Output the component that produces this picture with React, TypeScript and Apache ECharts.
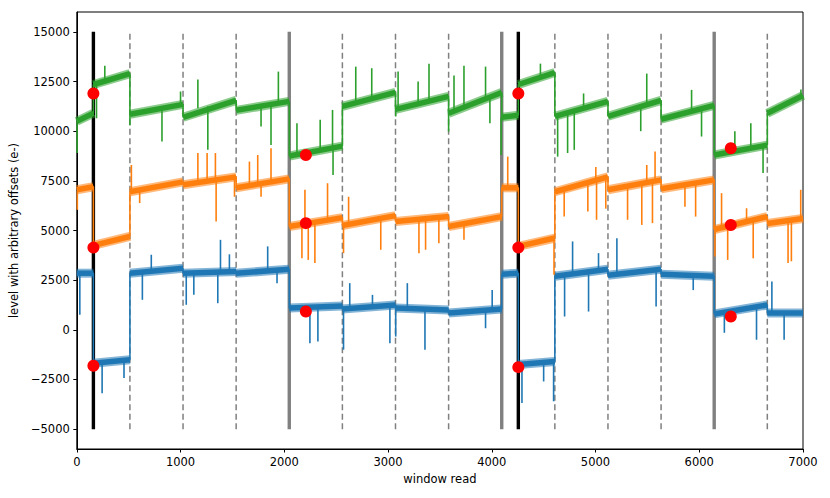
import React, { useEffect, useRef } from "react";
import * as echarts from "echarts";

// ---- data ----
const xTicks = [0, 1000, 2000, 3000, 4000, 5000, 6000, 7000];
const yTicks = [-5000, -2500, 0, 2500, 5000, 7500, 10000, 12500, 15000];

const dashedLines = [512, 1024, 1536, 2560, 3072, 3584, 4608, 5120, 5632, 6656];
const greyLines = [2048, 4096, 6144];
const blackLines = [160, 4256];
const vlineSpan = [-5000, 15000];

// baseline level of each trace: [window read, level]
const blueBase: [number, number][] = [
  [0, 2850], [160, 2850],
  [160, -1680], [512, -1510],
  [512, 2850], [1024, 3100],
  [1024, 2850], [1536, 2940],
  [1536, 2850], [2048, 3050],
  [2048, 1100], [2560, 1200],
  [2560, 1050], [3072, 1250],
  [3072, 1100], [3584, 1000],
  [3584, 850], [4096, 1050],
  [4096, 2800], [4256, 2850],
  [4256, -1750], [4608, -1600],
  [4608, 2700], [5120, 3050],
  [5120, 2750], [5632, 3050],
  [5632, 2800], [6144, 2700],
  [6144, 800], [6656, 1250],
  [6656, 850], [7000, 850],
];
const orangeBase: [number, number][] = [
  [0, 7050], [160, 7200],
  [160, 4250], [512, 4700],
  [512, 6950], [1024, 7450],
  [1024, 7300], [1536, 7700],
  [1536, 7150], [2048, 7600],
  [2048, 5200], [2560, 5650],
  [2560, 5250], [3072, 5750],
  [3072, 5450], [3584, 5700],
  [3584, 5200], [4096, 5700],
  [4096, 7150], [4256, 7150],
  [4256, 4200], [4608, 4620],
  [4608, 6950], [5120, 7700],
  [5120, 7050], [5632, 7550],
  [5632, 7100], [6144, 7550],
  [6144, 5050], [6656, 5700],
  [6656, 5350], [7000, 5600],
];
const greenBase: [number, number][] = [
  [0, 10500], [160, 10900],
  [160, 12350], [512, 12900],
  [512, 10850], [1024, 11350],
  [1024, 10700], [1536, 11550],
  [1536, 11050], [2048, 11500],
  [2048, 8750], [2560, 9250],
  [2560, 11250], [3072, 11950],
  [3072, 11100], [3584, 11750],
  [3584, 10900], [4096, 11950],
  [4096, 10700], [4256, 10800],
  [4256, 12350], [4608, 12950],
  [4608, 10750], [5120, 11500],
  [5120, 10750], [5632, 11550],
  [5632, 10600], [6144, 11300],
  [6144, 8800], [6656, 9300],
  [6656, 10900], [7000, 11800],
];

// spikes: [window read, level at start, tip level]
const blueSpikes: [number, number, number][] = [
  [29, 2850, 760], [244, -1650, -3190], [455, -1550, -2430], [632, 2950, 1510],
  [718, 2950, 3780], [1055, 2850, 1260], [1128, 2850, 1760], [1359, 2900, 1340],
  [1385, 2900, 4530], [1471, 2900, 3800], [1840, 2950, 4200], [1930, 3000, 2350],
  [2247, 1150, -670], [2324, 1150, -590], [2571, 1050, -1000], [2631, 1100, 2350],
  [2850, 1150, 1760], [3018, 1200, -670], [3074, 1100, -340], [3186, 1100, 2350],
  [3356, 1050, -1000], [3940, 950, 80], [4004, 1000, 2000], [4291, -1700, -3690],
  [4500, -1650, -2600], [4596, -1600, -3600], [4702, 2750, 670], [4779, 2800, 4450],
  [4933, 2900, 920], [5029, 3000, 3860], [5206, 2850, 4610], [5584, 3000, 1170],
  [5942, 2750, 2000], [6242, 900, -150], [6552, 1150, -500], [6700, 850, 2430],
  [6818, 850, -500],
];
const orangeSpikes: [number, number, number][] = [
  [5, 7000, 6040], [526, 7000, 8300], [606, 7050, 6380], [1167, 7350, 8900],
  [1256, 7400, 8900], [1336, 7450, 8900], [1343, 7450, 5450], [1520, 7650, 6700],
  [1664, 7300, 8470], [1744, 7350, 8800], [1776, 7350, 6700], [1872, 7450, 9140],
  [2170, 5300, 3600], [2199, 5350, 7050], [2231, 5350, 3520], [2295, 5400, 3360],
  [2417, 5500, 7380], [2571, 5250, 3860], [2620, 5300, 6700], [2930, 5600, 4030],
  [3298, 5550, 3860], [3362, 5550, 4030], [3490, 5650, 4360], [3732, 5400, 4530],
  [4154, 7150, 8720], [4600, 4600, 2770], [4698, 7100, 5700], [4926, 7400, 5960],
  [5003, 7500, 8200], [5010, 7500, 5540], [5099, 7650, 6100], [5309, 7200, 5540],
  [5446, 7350, 5280], [5494, 7450, 8300], [5549, 7450, 5370], [5574, 7500, 8980],
  [5862, 7300, 6200], [5965, 7350, 5700], [6151, 5050, 3690], [6215, 5150, 6880],
  [6274, 5250, 3520], [6456, 5400, 6120], [6520, 5500, 3600], [6856, 5450, 3360],
  [6888, 5450, 3450], [6978, 5600, 7050],
];
const greenSpikes: [number, number, number][] = [
  [3, 10500, 8900], [190, 12450, 10650], [270, 12600, 13300], [512, 11000, 10300],
  [821, 11200, 9480], [1000, 11300, 12000], [1167, 11150, 12600], [1263, 11250, 9060],
  [1776, 11300, 10230], [1872, 11350, 9300], [1943, 11400, 13000], [2122, 8900, 10400],
  [2346, 9050, 10570], [2465, 9150, 11070], [2470, 9150, 7800], [2689, 11450, 13250],
  [2843, 11650, 13170], [3074, 11300, 10740], [3097, 11200, 13000], [3290, 11400, 12500],
  [3395, 11550, 13400], [3584, 11000, 9980], [3636, 11050, 12800], [3732, 11300, 13300],
  [3940, 11600, 13250], [3982, 11700, 10400], [4090, 10700, 8800], [4469, 12800, 13400],
  [4635, 10800, 8720], [4731, 10950, 8900], [4795, 11050, 9060], [4885, 11200, 11900],
  [5436, 11350, 10000], [5494, 11400, 12900], [5926, 11100, 12080], [6022, 11150, 9730],
  [6343, 9000, 10000], [6497, 9150, 10400], [6615, 9300, 7900], [6980, 11800, 12100],
];

const redDots: [number, number][] = [
  [160, 11900], [160, 4140], [160, -1810],
  [2208, 8800], [2208, 5370], [2208, 920],
  [4256, 11900], [4256, 4140], [4256, -1880],
  [6304, 9140], [6304, 5280], [6304, 670],
];

const BLUE = "#1f77b4";
const ORANGE = "#ff7f0e";
const GREEN = "#2ca02c";
const FONT = "DejaVu Sans";

const fmt = (v: number) => (v < 0 ? "\u2212" + Math.abs(v) : String(v));

function vlineSeries(xs: number[], color: string, width: number, dash: number[] | null) {
  return {
    type: "custom",
    z: 1,
    silent: true,
    data: xs.map((x) => [x, vlineSpan[0], vlineSpan[1]]),
    encode: { x: 0, y: [1, 2] },
    renderItem: (_p: any, api: any) => {
      const a = api.coord([api.value(0), api.value(1)]);
      const b = api.coord([api.value(0), api.value(2)]);
      return {
        type: "line",
        shape: { x1: a[0], y1: a[1], x2: b[0], y2: b[1] },
        style: { stroke: color, lineWidth: width, lineDash: dash || undefined, fill: null },
      };
    },
  };
}

// each sub-segment of a baseline as one row [x0, v0, x1, v1]
function segmentsOf(base: [number, number][]) {
  const rows: number[][] = [];
  for (let i = 0; i + 1 < base.length; i += 2) {
    rows.push([base[i][0], base[i][1], base[i + 1][0], base[i + 1][1]]);
  }
  return rows;
}

function bandSeries(base: [number, number][], color: string, width: number, opacity: number) {
  return {
    type: "custom",
    z: 2,
    silent: true,
    data: segmentsOf(base),
    encode: { x: [0, 2], y: [1, 3] },
    renderItem: (_p: any, api: any) => {
      const a = api.coord([api.value(0), api.value(1)]);
      const b = api.coord([api.value(2), api.value(3)]);
      return {
        type: "line",
        shape: { x1: a[0], y1: a[1], x2: b[0], y2: b[1] },
        style: { stroke: color, lineWidth: width, opacity, lineCap: "butt", fill: null },
      };
    },
  };
}

function stepSeries(base: [number, number][], color: string) {
  return {
    type: "line",
    z: 2,
    data: base,
    showSymbol: false,
    symbol: "none",
    silent: true,
    lineStyle: { color, width: 1.6 },
  };
}

function spikeSeries(data: [number, number, number][], color: string) {
  return {
    type: "custom",
    z: 2,
    silent: true,
    data,
    encode: { x: 0, y: [1, 2] },
    renderItem: (_p: any, api: any) => {
      const a = api.coord([api.value(0), api.value(1)]);
      const b = api.coord([api.value(0), api.value(2)]);
      return {
        type: "line",
        shape: { x1: a[0], y1: a[1], x2: b[0], y2: b[1] },
        style: { stroke: color, lineWidth: 1.6, fill: null },
      };
    },
  };
}

function trace(base: [number, number][], spikes: [number, number, number][], color: string) {
  return [
    bandSeries(base, color, 9, 0.55),
    bandSeries(base, color, 5.5, 1),
    stepSeries(base, color),
    spikeSeries(spikes, color),
  ];
}

export default function App() {
  const ref = useRef<HTMLDivElement>(null);
  useEffect(() => {
    if (!ref.current) return;
    const chart = echarts.init(ref.current, null, { renderer: "svg" });
    chart.setOption({
      animation: false,
      backgroundColor: "#ffffff",
      grid: {
        left: 75,
        top: 12,
        right: 27,
        bottom: 49,
        show: true,
        borderColor: "#000",
        borderWidth: 1,
        backgroundColor: "transparent",
      },
      xAxis: {
        type: "value",
        min: 0,
        max: 7000,
        interval: 1000,
        name: "window read",
        nameLocation: "middle",
        nameGap: 22,
        nameTextStyle: { color: "#000", fontSize: 11.5, fontFamily: FONT },
        axisLine: { show: true, onZero: false, lineStyle: { color: "#000", width: 1 } },
        axisTick: { show: true, inside: false, length: 3.5, lineStyle: { color: "#000" } },
        axisLabel: {
          color: "#000",
          fontSize: 11.5,
          fontFamily: FONT,
          margin: 7,
          formatter: fmt,
        },
        splitLine: { show: false },
      },
      yAxis: {
        type: "value",
        min: -6000,
        max: 16000,
        name: "level with arbitrary offsets (e-)",
        nameLocation: "middle",
        nameRotate: 90,
        nameGap: 46,
        nameTextStyle: { color: "#000", fontSize: 11.5, fontFamily: FONT },
        axisLine: { show: true, onZero: false, lineStyle: { color: "#000", width: 1 } },
        axisTick: {
          show: true,
          inside: false,
          length: 3.5,
          lineStyle: { color: "#000" },
          customValues: yTicks,
        },
        axisLabel: {
          color: "#000",
          fontSize: 11.5,
          fontFamily: FONT,
          margin: 7,
          customValues: yTicks,
          formatter: fmt,
        },
        splitLine: { show: false },
      },
      series: [
        vlineSeries(dashedLines, "#808080", 1.5, [6, 3.5]),
        vlineSeries(greyLines, "#808080", 3.4, null),
        vlineSeries(blackLines, "#000000", 3.4, null),
        ...trace(blueBase, blueSpikes, BLUE),
        ...trace(orangeBase, orangeSpikes, ORANGE),
        ...trace(greenBase, greenSpikes, GREEN),
        {
          type: "scatter",
          z: 5,
          data: redDots,
          symbol: "circle",
          symbolSize: 12,
          itemStyle: { color: "#ff0000", opacity: 1 },
          silent: true,
        },
      ],
    });
    return () => chart.dispose();
  }, []);
  return (
    <div
      ref={ref}
      style={{ position: "fixed", left: 0, top: 0, width: 830, height: 498, background: "#fff" }}
    />
  );
}
